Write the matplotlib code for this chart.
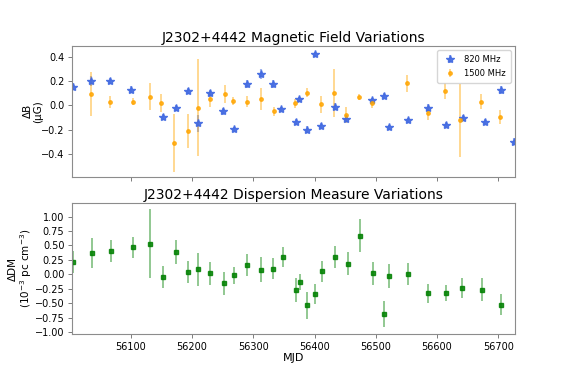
import numpy as np
import matplotlib
matplotlib.use("Agg")
import matplotlib.pyplot as plt

# 820 MHz magnetic field
mjd_820 = [56005, 56035, 56066, 56101, 56152, 56173, 56193, 56210, 56230, 56251,
           56268, 56289, 56313, 56332, 56346, 56369, 56375, 56387, 56400, 56411,
           56433, 56452, 56493, 56514, 56521, 56552, 56586, 56614, 56642, 56678,
           56705, 56725]
b_820 = [0.153, 0.20, 0.20, 0.13, -0.10, -0.025, 0.12, -0.15, 0.10, -0.05,
         -0.195, 0.175, 0.26, 0.175, -0.03, -0.14, 0.05, -0.20, 0.42, -0.17,
         -0.01, -0.11, 0.04, 0.08, -0.18, -0.125, -0.02, -0.16, -0.105, -0.135,
         0.125, -0.30]
berr_820 = [0.03, 0.04, 0.025, 0.025, 0.025, 0.025, 0.025, 0.07, 0.03, 0.03,
            0.02, 0.03, 0.04, 0.03, 0.02, 0.025, 0.02, 0.03, 0.02, 0.025,
            0.03, 0.03, 0.02, 0.02, 0.02, 0.02, 0.03, 0.02, 0.025, 0.02,
            0.03, 0.03]

# 1500 MHz magnetic field
mjd_1500 = [56035, 56066, 56103, 56131, 56150, 56171, 56193, 56209, 56230, 56253,
            56267, 56289, 56313, 56333, 56368, 56387, 56411, 56432, 56452, 56473,
            56494, 56551, 56586, 56613, 56638, 56672, 56703]
b_1500 = [0.095, 0.025, 0.03, 0.07, 0.02, -0.31, -0.21, -0.02, 0.05, 0.09,
          0.035, 0.03, 0.055, -0.05, 0.015, 0.105, 0.01, 0.10, -0.08, 0.065,
          0.015, 0.18, -0.065, 0.12, -0.125, 0.03, -0.095]
berr_1500 = [0.18, 0.05, 0.03, 0.11, 0.075, 0.24, 0.14, 0.40, 0.065, 0.075,
             0.035, 0.045, 0.09, 0.04, 0.04, 0.04, 0.07, 0.20, 0.065, 0.025,
             0.035, 0.07, 0.055, 0.065, 0.30, 0.06, 0.06]

# Dispersion measure
mjd_dm = [56006, 56036, 56067, 56103, 56131, 56152, 56173, 56193, 56210, 56230,
          56252, 56268, 56289, 56313, 56332, 56348, 56369, 56376, 56388, 56401,
          56412, 56433, 56454, 56474, 56495, 56514, 56522, 56552, 56586, 56614,
          56640, 56674, 56704]
dm = [0.22, 0.37, 0.41, 0.47, 0.53, -0.05, 0.39, 0.035, 0.085, 0.02,
      -0.155, -0.02, 0.155, 0.08, 0.10, 0.30, -0.27, -0.14, -0.54, -0.34,
      0.05, 0.30, 0.18, 0.67, 0.02, -0.69, -0.03, 0.00, -0.33, -0.33,
      -0.235, -0.27, -0.53]
dm_err = [0.19, 0.26, 0.19, 0.18, 0.60, 0.19, 0.21, 0.19, 0.29, 0.20,
          0.20, 0.15, 0.19, 0.22, 0.19, 0.18, 0.21, 0.14, 0.23, 0.17,
          0.18, 0.19, 0.20, 0.29, 0.20, 0.23, 0.21, 0.19, 0.16, 0.14,
          0.17, 0.20, 0.18]

fig = plt.figure(figsize=(5.72, 3.82), dpi=100)
ax1 = fig.add_axes([0.126, 0.537, 0.774, 0.343])
ax2 = fig.add_axes([0.126, 0.125, 0.774, 0.344], sharex=ax1)

for ax in (ax1, ax2):
    for s in ax.spines.values():
        s.set_color("0.55")
        s.set_linewidth(0.8)
    ax.tick_params(labelsize=7, length=3, width=0.6, color="0.4", pad=2.5)

ax1.errorbar(mjd_820, b_820, yerr=berr_820, fmt="*", color="royalblue",
             ecolor="royalblue", elinewidth=1.5, markersize=6, alpha=0.9,
             label="820 MHz")
ax1.errorbar(mjd_1500, b_1500, yerr=berr_1500, fmt="o", color="orange",
             ecolor="orange", elinewidth=1.2, markersize=2.5, alpha=0.8,
             label="1500 MHz")
for coll in ax1.collections:
    coll.set_alpha(0.5)
ax1.set_ylim(-0.59, 0.49)
ax1.set_yticks([-0.4, -0.2, 0.0, 0.2, 0.4])
ax1.set_title("J2302+4442 Magnetic Field Variations", fontsize=10, pad=3)
ax1.set_ylabel("ΔB\n(μG)", fontsize=7.5, linespacing=1.1)
ax1.yaxis.set_label_coords(-0.065, 0.5)
ax1.tick_params(labelbottom=False)
ax1.legend(loc="upper right", fontsize=6, borderpad=0.6, labelspacing=0.6,
           handlelength=1.8)

ax2.errorbar(mjd_dm, dm, yerr=dm_err, fmt="s", color="green", ecolor="green",
             elinewidth=1.2, markersize=2.3, alpha=0.85)
for coll in ax2.collections:
    coll.set_alpha(0.5)
ax2.set_ylim(-1.04, 1.24)
ax2.set_yticks([-1.0, -0.75, -0.5, -0.25, 0.0, 0.25, 0.5, 0.75, 1.0])
ax2.set_title("J2302+4442 Dispersion Measure Variations", fontsize=10, pad=3)
ax2.set_ylabel("ΔDM\n(10$^{-3}$ pc cm$^{-3}$)", fontsize=7.5, linespacing=1.1)
ax2.yaxis.set_label_coords(-0.085, 0.5)
ax2.set_xlabel("MJD", fontsize=8, labelpad=1)
ax2.set_xlim(min(mjd_dm + mjd_820) - 1, max(mjd_820) + 2)
ax2.set_xticks([56100, 56200, 56300, 56400, 56500, 56600, 56700])

fig.savefig("out.png", dpi=100)
